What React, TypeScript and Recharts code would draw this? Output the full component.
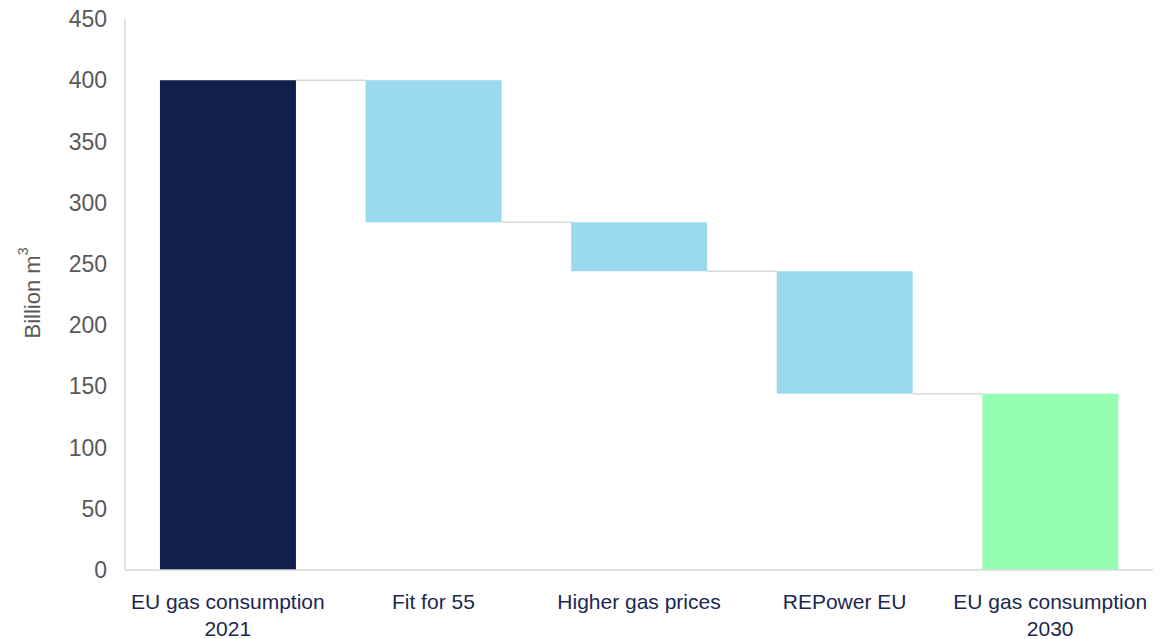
import { Bar, BarChart, XAxis, YAxis } from "recharts";

const categories = [
  "EU gas consumption 2021",
  "Fit for 55",
  "Higher gas prices",
  "REPower EU",
  "EU gas consumption 2030",
];
// invisible base of each floating bar
const baseValues = [0, 284, 244, 144, 0];
// visible part of each bar
const barValues = [400, 116, 40, 100, 144];
const barKinds = ["total", "down", "down", "down", "total"];
const yTicks = [0, 50, 100, 150, 200, 250, 300, 350, 400, 450];

const colors: Record<string, string> = {
  first: "#10204a",
  down: "#9ad9f0",
  last: "#94ffb2",
};

const data = categories.map((name, i) => ({
  name,
  base: baseValues[i],
  value: barValues[i],
  kind: barKinds[i],
}));

const GAP = 0.17;

function StepBar(props: any) {
  const { x, y, width, height, index, payload } = props;
  const fill = index === 0 ? colors.first : payload.kind === "down" ? colors.down : colors.last;
  const gapLen = (width * (2 * GAP)) / (1 - 2 * GAP);
  const level = payload.kind === "down" ? y + height : y;
  const isLast = index === categories.length - 1;
  return (
    <g>
      <rect x={x} y={y} width={width} height={height} fill={fill} />
      {!isLast && (
        <line x1={x + width} x2={x + width + gapLen} y1={level} y2={level} stroke="#d9d9d9" strokeWidth={1.5} />
      )}
    </g>
  );
}

function CategoryTick(props: any) {
  const { x, y, payload } = props;
  const text: string = payload.value;
  const m = text.match(/^(.*) (\d{4})$/);
  const lines = m ? [m[1], m[2]] : [text];
  return (
    <text textAnchor="middle" fill="#1b2850" fontSize={21} fontFamily="Liberation Sans, Arial, sans-serif">
      {lines.map((l, i) => (
        <tspan key={i} x={x} y={y + 37 + i * 27}>
          {l}
        </tspan>
      ))}
    </text>
  );
}

function YLabel() {
  return (
    <text
      x={32}
      y={293}
      transform="rotate(-90 32 293)"
      textAnchor="middle"
      dominantBaseline="central"
      fill="#595959"
      fontSize={22}
      fontFamily="Liberation Sans, Arial, sans-serif"
    >
      Billion m<tspan dy={-9} fontSize={14}>3</tspan>
    </text>
  );
}

export default function App() {
  return (
    <div style={{ position: "absolute", top: 0, left: 0 }}>
      <BarChart
        width={1171}
        height={639}
        data={data}
        margin={{ top: 19, right: 18, bottom: 14, left: 0 }}
        barCategoryGap="17%"
      >
        <XAxis
          dataKey="name"
          interval={0}
          tickLine={false}
          tickSize={0}
          height={55}
          axisLine={{ stroke: "#d9d9d9", strokeWidth: 1.5 }}
          tick={<CategoryTick />}
        />
        <YAxis
          width={125}
          domain={[0, 450]}
          ticks={yTicks}
          interval={0}
          tickLine={false}
          tickSize={6}
          tickMargin={12}
          axisLine={{ stroke: "#d9d9d9", strokeWidth: 1.5 }}
          tick={{ fill: "#595959", fontSize: 23, fontFamily: "Liberation Sans, Arial, sans-serif" }}
        />
        <Bar dataKey="base" stackId="w" fill="transparent" isAnimationActive={false} />
        <Bar dataKey="value" stackId="w" shape={<StepBar />} isAnimationActive={false} />
        <YLabel />
      </BarChart>
    </div>
  );
}
